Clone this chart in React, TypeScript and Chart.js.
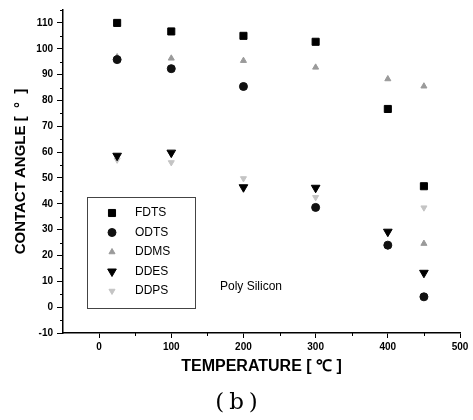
import React, { useEffect, useRef } from 'react';
import { Chart, registerables } from 'chart.js';
import { drawPoint } from 'chart.js/helpers';

Chart.register(...registerables);

const FONT = '"Liberation Sans", Arial, sans-serif';

const temperatures = [25, 100, 200, 300, 400, 450];
const fdtsValues = [110, 106.7, 105, 102.7, 76.7, 46.8];
const odtsValues = [95.8, 92.3, 85.4, 38.6, 24, 4];
const ddmsTemps = [25, 100, 200, 300, 400, 450, 450];
const ddmsValues = [96.8, 96.3, 95.4, 92.8, 88.3, 85.5, 24.6];
const ddesValues = [58.6, 59.8, 46.4, 46.2, 29.2, 13.3];
const ddpsValues = [57, 56, 49.8, 42.5, 23.5, 38.5];

const seriesNames = ['FDTS', 'ODTS', 'DDMS', 'DDES', 'DDPS'];
const xTickLabels = [0, 100, 200, 300, 400, 500];
const yTickLabels = [-10, 0, 10, 20, 30, 40, 50, 60, 70, 80, 90, 100, 110];

const styles: any[] = [
  { pointStyle: 'rect', radius: 5, rotation: 0, color: '#000000' },
  { pointStyle: 'circle', radius: 4, rotation: 0, color: '#111111' },
  { pointStyle: 'triangle', radius: 3.5, rotation: 0, color: '#9a9a9a' },
  { pointStyle: 'triangle', radius: 5, rotation: 180, color: '#000000' },
  { pointStyle: 'triangle', radius: 3.5, rotation: 180, color: '#c4c4c4' },
];

function pts(xs: number[], ys: number[]) {
  return ys.map((y, i) => ({ x: xs[i], y }));
}

const overlayPlugin = {
  id: 'overlay',
  afterDraw(chart: any) {
    const ctx = chart.ctx as CanvasRenderingContext2D;
    const xs = chart.scales.x;
    const ys = chart.scales.y;
    ctx.save();
    // minor ticks
    ctx.strokeStyle = '#000';
    ctx.lineWidth = 1;
    for (let v = -5; v <= 115; v += 10) {
      const y = Math.round(ys.getPixelForValue(v)) + 0.5;
      ctx.beginPath();
      ctx.moveTo(ys.right - 3, y);
      ctx.lineTo(ys.right, y);
      ctx.stroke();
    }
    for (let v = 50; v <= 450; v += 100) {
      const x = Math.round(xs.getPixelForValue(v)) + 0.5;
      ctx.beginPath();
      ctx.moveTo(x, xs.top);
      ctx.lineTo(x, xs.top + 3);
      ctx.stroke();
    }
    // legend box
    ctx.strokeStyle = '#444';
    ctx.lineWidth = 1;
    ctx.strokeRect(87.5, 197.5, 108, 111);
    ctx.font = `12px ${FONT}`;
    ctx.textBaseline = 'middle';
    ctx.textAlign = 'left';
    seriesNames.forEach((name, i) => {
      const y = 213 + i * 19.5;
      const s = styles[i];
      ctx.fillStyle = s.color;
      ctx.strokeStyle = s.color;
      drawPoint(ctx, { pointStyle: s.pointStyle, radius: s.radius, rotation: s.rotation, borderWidth: 1 } as any, 112, y);
      ctx.fillStyle = '#000';
      ctx.fillText(name, 135, y);
    });
    ctx.fillStyle = '#000';
    ctx.fillText('Poly Silicon', 220, 287);
    // caption
    ctx.font = `23px "DejaVu Serif", serif`;
    (ctx as any).letterSpacing = '5px';
    ctx.textAlign = 'center';
    ctx.fillText('(b)', 239, 403);
    ctx.restore();
  },
};

export default function App() {
  const ref = useRef<HTMLCanvasElement>(null);
  useEffect(() => {
    const datasets = [
      pts(temperatures, fdtsValues),
      pts(temperatures, odtsValues),
      pts(ddmsTemps, ddmsValues),
      pts(temperatures, ddesValues),
      pts(temperatures, ddpsValues),
    ].map((data, i) => ({
      label: seriesNames[i],
      data,
      showLine: false,
      pointStyle: styles[i].pointStyle,
      pointRadius: styles[i].radius,
      pointRotation: styles[i].rotation,
      backgroundColor: styles[i].color,
      borderColor: styles[i].color,
      borderWidth: 1,
    }));
    const chart = new Chart(ref.current!, {
      type: 'scatter',
      data: { datasets: datasets as any },
      options: {
        responsive: false,
        animation: false,
        layout: { padding: { top: 5, right: 13, left: 0, bottom: 0 } },
        plugins: { legend: { display: false }, tooltip: { enabled: false } },
        scales: {
          x: {
            type: 'linear',
            min: -50,
            max: 500,
            ticks: {
              stepSize: 100,
              autoSkip: false,
              maxRotation: 0,
              padding: 3,
              color: '#000',
              font: { family: FONT, size: 10, weight: 'bold' },
              callback: (v: any) => (xTickLabels.includes(Number(v)) ? String(v) : ''),
            },
            grid: {
              drawOnChartArea: false,
              tickLength: 5,
              tickColor: (c: any) => (c.tick && c.tick.value < 0 ? 'rgba(0,0,0,0)' : '#000'),
              tickWidth: 1,
            },
            border: { color: '#000', width: 1.5 },
            title: {
              display: true,
              text: 'TEMPERATURE [ ℃ ]',
              color: '#000',
              font: { family: FONT, size: 16, weight: 'bold' },
              padding: { top: 4, bottom: 44 },
            },
            afterFit: (s: any) => {
              s.height = 87;
            },
          },
          y: {
            type: 'linear',
            min: -10,
            max: 115,
            ticks: {
              stepSize: 10,
              autoSkip: false,
              padding: 4,
              color: '#000',
              font: { family: FONT, size: 10, weight: 'bold' },
              callback: (v: any) => (yTickLabels.includes(Number(v)) ? String(v) : ''),
            },
            grid: {
              drawOnChartArea: false,
              tickLength: 6,
              tickColor: (c: any) => (c.tick && c.tick.value > 110 ? 'rgba(0,0,0,0)' : '#000'),
              tickWidth: 1,
            },
            border: { color: '#000', width: 1.5 },
            title: {
              display: true,
              text: 'CONTACT ANGLE [  °  ]',
              color: '#000',
              font: { family: FONT, size: 15, weight: 'bold' },
              padding: { top: 12, bottom: 0 },
            },
            afterFit: (s: any) => {
              s.width = 63;
            },
          },
        },
      },
      plugins: [overlayPlugin],
    });
    return () => chart.destroy();
  }, []);
  return (
    <div style={{ position: 'absolute', left: 0, top: 0, width: 473, height: 420, background: '#fff' }}>
      <canvas ref={ref} width={473} height={420} style={{ width: 473, height: 420, display: 'block' }} />
    </div>
  );
}
